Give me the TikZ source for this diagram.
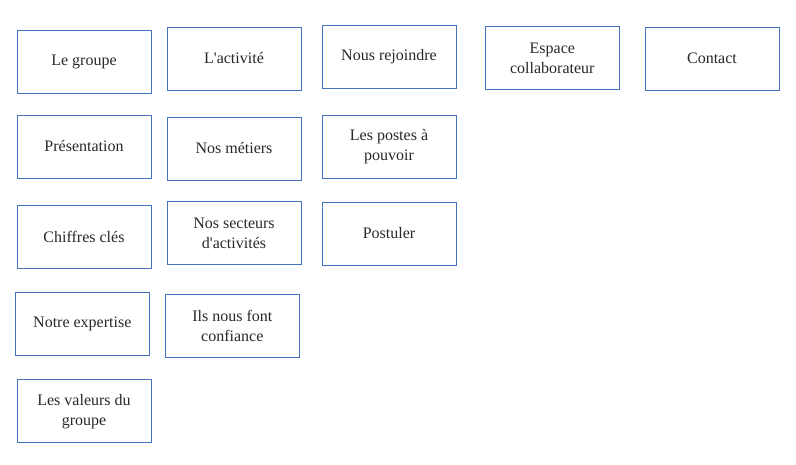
\documentclass[tikz,border=0pt]{standalone}
\usepackage{fontspec}
\setmainfont{Liberation Serif}
\usepackage{tikz}
\usetikzlibrary{positioning}
\definecolor{boxblue}{RGB}{70,115,190}
\definecolor{textgray}{RGB}{40,40,40}

\begin{document}
\begin{tikzpicture}[x=1pt, y=-1pt, font = \fontsize{16}{20}\selectfont,
    page/.style = {draw=boxblue, line width=0.9pt, text=textgray, align=center,
        minimum width=134pt, minimum height=63pt, inner sep=2pt}]
    \useasboundingbox (0,0) rectangle (796,464);

    \node[page] (groupe) at (84,61.5) {Le groupe};
    \node[page] (presentation) at (84,146.5) {Présentation};
    \node[page] (chiffres) at (84,236.5) {Chiffres clés};
    \node[page] (expertise) at (82.3,323.5) {Notre expertise};
    \node[page] (valeurs) at (84,411.3) {Les valeurs du\\groupe};

    \node[page] (activite) at (234,58.5) {L\textquotesingle activité};
    \node[page] (metiers) at (234,148.5) {Nos métiers};
    \node[page] (secteurs) at (234,233.3) {Nos secteurs\\d\textquotesingle activités};
    \node[page] (confiance) at (232.3,326) {Ils nous font\\confiance};

    \node[page] (rejoindre) at (389,56.7) {Nous rejoindre};
    \node[page] (postes) at (389,146.5) {Les postes à\\pouvoir};
    \node[page] (postuler) at (389,233.5) {Postuler};

    \node[page] (espace) at (552.3,58.3) {Espace\\collaborateur};
    \node[page] (contact) at (712,58.5) {Contact};
\end{tikzpicture}
\end{document}
